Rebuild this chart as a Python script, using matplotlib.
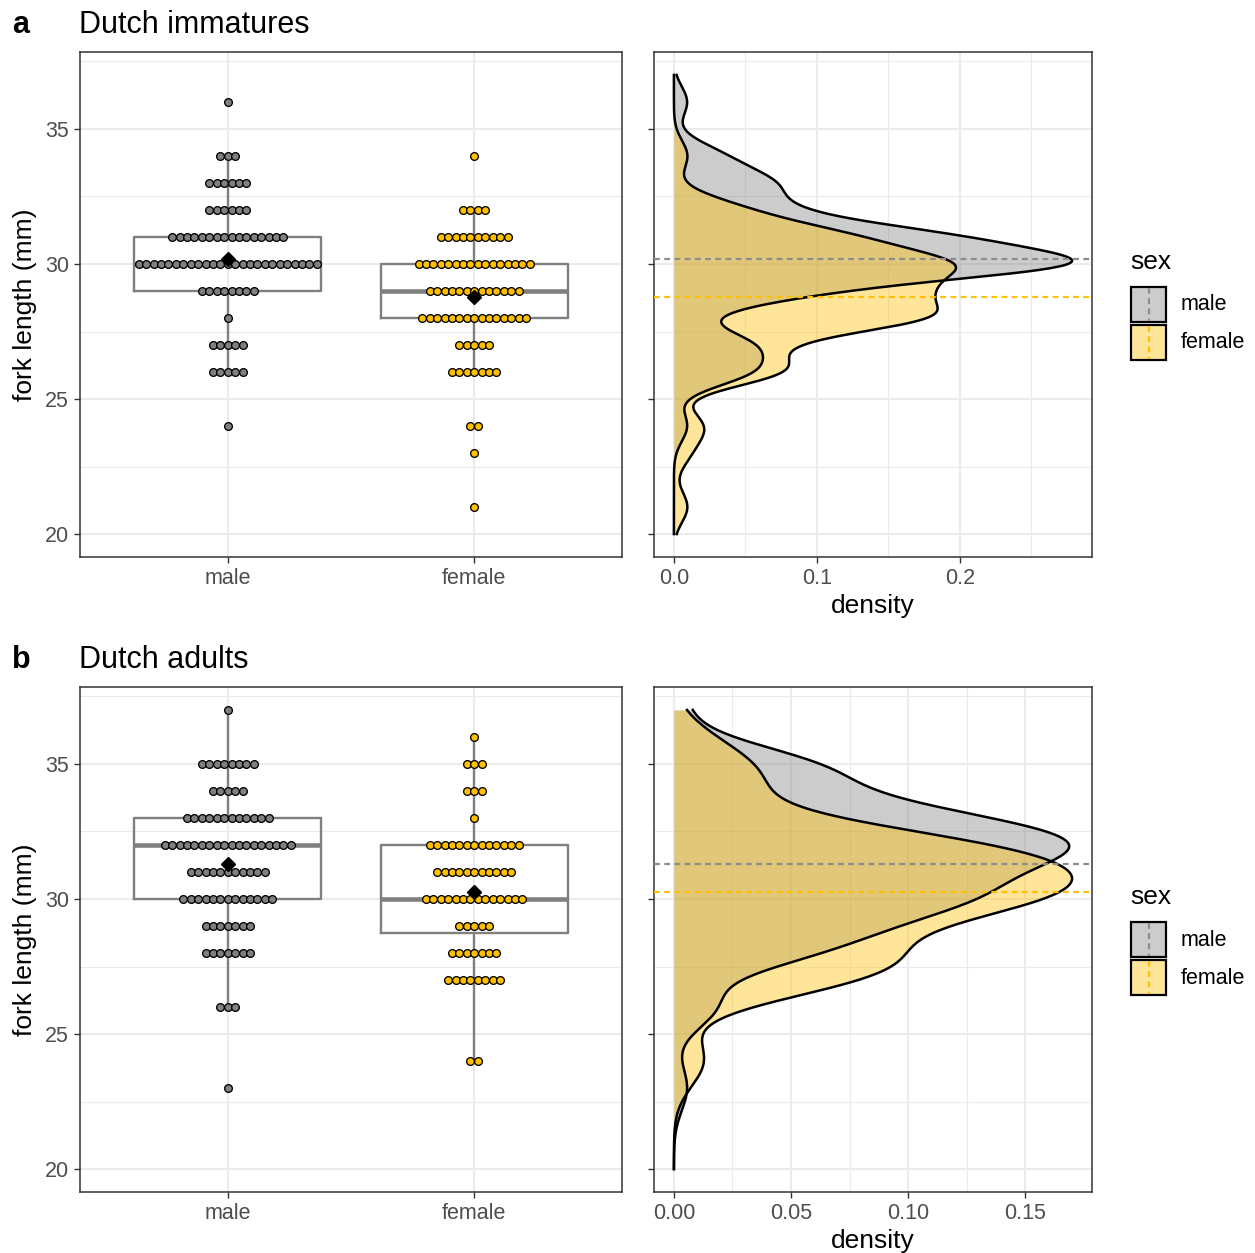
import numpy as np
import matplotlib
matplotlib.use('Agg')
import matplotlib.pyplot as plt
from matplotlib.patches import Rectangle
from matplotlib.lines import Line2D

plt.rcParams['font.family'] = ['Liberation Sans', 'DejaVu Sans']

# ---------------- data ----------------
imm_male_len = [24, 26, 27, 28, 29, 30, 31, 32, 33, 34, 36]
imm_male_cnt = [1, 5, 5, 1, 8, 25, 16, 6, 6, 3, 1]
imm_female_len = [21, 23, 24, 26, 27, 28, 29, 30, 31, 32, 34]
imm_female_cnt = [1, 1, 2, 7, 5, 15, 13, 16, 10, 4, 1]
adu_male_len = [23, 26, 28, 29, 30, 31, 32, 33, 34, 35, 37]
adu_male_cnt = [1, 3, 7, 7, 13, 11, 18, 12, 5, 8, 1]
adu_female_len = [24, 27, 28, 29, 30, 31, 32, 33, 34, 35, 36]
adu_female_cnt = [2, 8, 7, 5, 14, 11, 13, 1, 3, 3, 1]

sexes = ['male', 'female']
panel_titles = ['Dutch immatures', 'Dutch adults']
panel_tags = ['a', 'b']
y_limits = (20, 37)
y_ticks = [20, 25, 30, 35]
dens_ticks = [[0.0, 0.1, 0.2], [0.00, 0.05, 0.10, 0.15]]
dens_minor = [[0.05, 0.15, 0.25], [0.025, 0.075, 0.125]]
dens_fmt = ['{:.1f}', '{:.2f}']

panels = [
    [(imm_male_len, imm_male_cnt), (imm_female_len, imm_female_cnt)],
    [(adu_male_len, adu_male_cnt), (adu_female_len, adu_female_cnt)],
]

# ---------------- style ----------------
W, H, DPI = 1255, 1253, 100
dot_colors = {'male': '#808080', 'female': '#FFC000'}
line_colors = {'male': '#8C8C8C', 'female': '#FFC000'}
fill_alpha = 0.4
border_col = '#333333'
tick_lab_col = '#4D4D4D'
grid_col = '#EBEBEB'
TICK_FS = 15.5
TITLE_FS = 19
PLOT_TITLE_FS = 22
DASH = (0, (2.6, 2.0))

def fx(px):
    return px / W

def fy(py):
    return 1 - py / H

def bw_nrd0(x):
    sd = np.std(x, ddof=1)
    q75, q25 = np.percentile(x, [75, 25])
    lo = min(sd, (q75 - q25) / 1.34)
    return 0.9 * lo * len(x) ** -0.2

def kde(x, grid):
    bw = bw_nrd0(x)
    z = (grid[:, None] - x[None, :]) / bw
    return np.exp(-0.5 * z ** 2).sum(axis=1) / (len(x) * bw * np.sqrt(2 * np.pi))

def style_axes(ax):
    for s in ax.spines.values():
        s.set_color(border_col)
        s.set_linewidth(1.1)
    ax.tick_params(length=4.3, width=1.0, color=border_col, labelcolor=tick_lab_col,
                   labelsize=TICK_FS, pad=3.5)
    ax.tick_params(which='minor', length=0)
    ax.set_axisbelow(True)
    ax.grid(True, which='major', color=grid_col, lw=1.5)
    ax.grid(True, which='minor', color=grid_col, lw=0.8)

fig = plt.figure(figsize=(W / DPI, H / DPI), dpi=DPI)

y_exp = 0.05 * (y_limits[1] - y_limits[0])
grid_y = np.linspace(y_limits[0], y_limits[1], 512)
minor_y = [22.5, 27.5, 32.5, 37.5]
dot_step = 0.0301
row_off = 635

for p, groups in enumerate(panels):
    off = p * row_off
    ax1 = fig.add_axes([fx(80), fy(557 + off), fx(542), 505 / H])
    ax2 = fig.add_axes([fx(654), fy(557 + off), fx(438), 505 / H])

    data = [np.repeat(np.array(l, float), c) for l, c in groups]
    means = [d.mean() for d in data]

    # ----- box + dot plot -----
    ax1.boxplot(data, positions=[1, 2], widths=0.76, showfliers=False, showcaps=False,
                boxprops=dict(color='#7F7F7F', lw=1.7),
                whiskerprops=dict(color='#7F7F7F', lw=1.7),
                medianprops=dict(color='#7F7F7F', lw=3.3),
                zorder=2)
    for i, (sex, (lens, cnts)) in enumerate(zip(sexes, groups)):
        xs, ys = [], []
        for v, n in zip(lens, cnts):
            offs = (np.arange(n) - (n - 1) / 2) * dot_step
            xs.extend(i + 1 + offs)
            ys.extend([v] * n)
        ax1.scatter(xs, ys, s=31, facecolor=dot_colors[sex], edgecolor='black',
                    linewidth=0.95, zorder=3)
        ax1.plot([i + 1], [means[i]], marker='D', color='black', ms=7, zorder=4,
                 linestyle='none')
    ax1.set_xlim(0.4, 2.6)
    ax1.set_ylim(y_limits[0] - y_exp, y_limits[1] + y_exp)
    ax1.set_xticks([1, 2])
    ax1.set_xticklabels(sexes)
    ax1.set_yticks(y_ticks)
    ax1.set_yticks(minor_y, minor=True)
    style_axes(ax1)
    ax1.grid(False, which='minor', axis='x')
    ax1.set_ylabel('fork length (mm)', fontsize=TITLE_FS, labelpad=6)

    # ----- density -----
    dens = [kde(d, grid_y) for d in data]
    for i, sex in enumerate(sexes):
        ax2.fill_betweenx(grid_y, 0, dens[i], color=dot_colors[sex], alpha=fill_alpha,
                          lw=0, zorder=2)
        ax2.plot(dens[i], grid_y, color='black', lw=1.8, zorder=2.5)
    for i, sex in enumerate(sexes):
        ax2.axhline(means[i], color=line_colors[sex], lw=1.6, linestyle=DASH, zorder=3)
    dmax = max(d.max() for d in dens)
    ax2.set_xlim(-0.05 * dmax, 1.05 * dmax)
    ax2.set_ylim(y_limits[0] - y_exp, y_limits[1] + y_exp)
    ax2.set_yticks(y_ticks)
    ax2.set_yticks(minor_y, minor=True)
    ax2.set_yticklabels([])
    ax2.set_xticks(dens_ticks[p])
    ax2.set_xticklabels([dens_fmt[p].format(t) for t in dens_ticks[p]])
    ax2.set_xticks(dens_minor[p], minor=True)
    style_axes(ax2)
    ax2.set_xlabel('density', fontsize=TITLE_FS, labelpad=4)

    # ----- titles -----
    fig.text(fx(12), fy(33 + off), panel_tags[p], fontsize=PLOT_TITLE_FS,
             fontweight='bold', va='baseline', ha='left')
    fig.text(fx(79), fy(33 + off), panel_titles[p], fontsize=PLOT_TITLE_FS,
             va='baseline', ha='left')

    # ----- legend -----
    fig.text(fx(1130), fy(269 + off), 'sex', fontsize=TITLE_FS, va='baseline', ha='left')
    key_tops = [287, 325]
    for i, sex in enumerate(sexes):
        top = key_tops[i] + off
        fig.add_artist(Rectangle((fx(1131), fy(top + 35)), fx(35), 35 / H,
                                 transform=fig.transFigure, facecolor='white',
                                 edgecolor='none'))
        fig.add_artist(Rectangle((fx(1131), fy(top + 35)), fx(35), 35 / H,
                                 transform=fig.transFigure, facecolor=dot_colors[sex],
                                 alpha=fill_alpha, edgecolor='none'))
        fig.add_artist(Rectangle((fx(1131), fy(top + 35)), fx(35), 35 / H,
                                 transform=fig.transFigure, facecolor='none',
                                 edgecolor='black', lw=1.6))
        fig.add_artist(Line2D([fx(1148.5), fx(1148.5)], [fy(top + 1), fy(top + 34)],
                              transform=fig.transFigure, color=line_colors[sex], lw=1.6,
                              linestyle=DASH))
        fig.text(fx(1181), fy(top + 18), sex, fontsize=TICK_FS, va='center', ha='left')

fig.savefig('out.png', dpi=DPI)
